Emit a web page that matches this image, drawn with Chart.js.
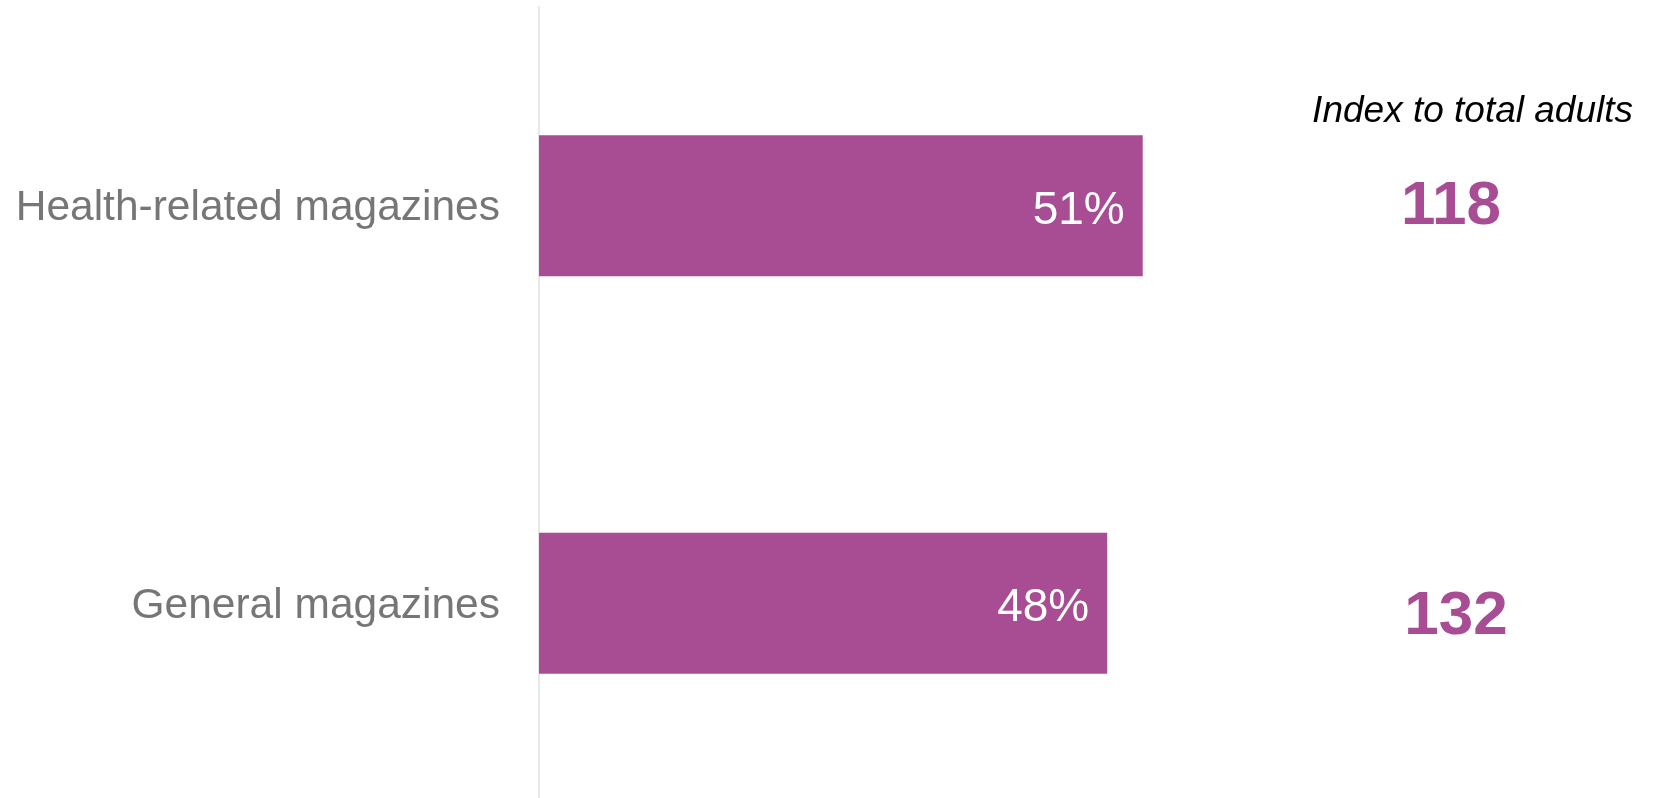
<!DOCTYPE html>
<html>
<head>
<meta charset="utf-8">
<script src="https://cdn.jsdelivr.net/npm/chart.js@4/dist/chart.umd.min.js"></script>
<style>
  html, body { margin: 0; padding: 0; background: #fff; overflow: hidden; }
  #wrap { width: 1655px; height: 802px; }
</style>
</head>
<body>
<div id="wrap"><canvas id="chart" width="1655" height="802"></canvas></div>
<script>
const categories = ['Health-related magazines', 'General magazines'];
const shareValues = [51, 48];
const indexValues = [118, 132];
const indexHeading = 'Index to total adults';

const purple = '#a84c94';
const font = '"Liberation Sans", Arial, sans-serif';

// percentage inside the end of each bar, index value in the column on the right
const barLabels = {
  id: 'barLabels',
  afterDatasetsDraw(chart) {
    const ctx = chart.ctx;
    const meta = chart.getDatasetMeta(0);
    const indexX = [1451, 1456];
    const indexY = [224, 634];
    ctx.save();

    ctx.fillStyle = '#000';
    ctx.font = 'italic 37px ' + font;
    ctx.textAlign = 'right';
    ctx.textBaseline = 'alphabetic';
    ctx.fillText(indexHeading, 1633, 122);

    meta.data.forEach((bar, i) => {
      ctx.fillStyle = '#fff';
      ctx.font = '46px ' + font;
      ctx.textAlign = 'right';
      ctx.fillText(shareValues[i] + '%', bar.x - 18, bar.y + 18);

      ctx.fillStyle = purple;
      ctx.font = 'bold 62px ' + font;
      ctx.textAlign = 'center';
      ctx.fillText(String(indexValues[i]), indexX[i], indexY[i]);
    });
    ctx.restore();
  }
};

new Chart(document.getElementById('chart'), {
  type: 'bar',
  data: {
    labels: categories,
    datasets: [{
      data: shareValues,
      backgroundColor: purple,
      borderWidth: 0,
      barPercentage: 0.355,
      categoryPercentage: 1
    }]
  },
  options: {
    indexAxis: 'y',
    responsive: false,
    devicePixelRatio: 1,
    animation: false,
    layout: { padding: { top: 7, right: 169, bottom: 0, left: 0 } },
    plugins: {
      legend: { display: false },
      tooltip: { enabled: false }
    },
    scales: {
      x: {
        display: false,
        min: 0,
        max: 80
      },
      y: {
        grid: { display: false },
        border: { display: true, color: '#e8e8e8', width: 2 },
        ticks: {
          color: '#767676',
          font: { family: font, size: 42.5 },
          padding: 31,
          labelOffset: 3
        },
        afterFit(scale) {
          // fixed label column; no extra room above/below for the tick text
          scale.width = 539;
          scale.paddingTop = 0;
          scale.paddingBottom = 0;
        }
      }
    }
  },
  plugins: [barLabels]
});
</script>
</body>
</html>
